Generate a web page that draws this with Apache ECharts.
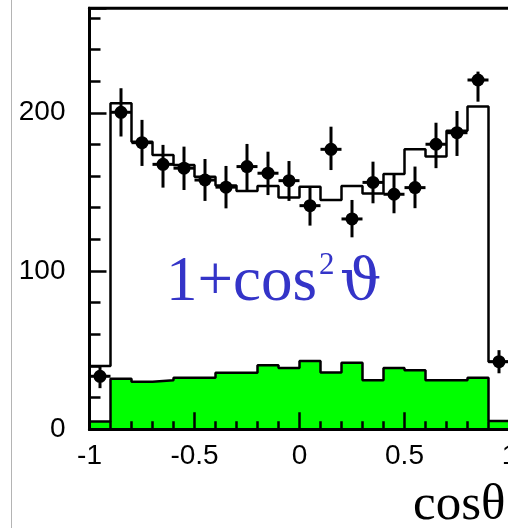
<!DOCTYPE html>
<html>
<head>
<meta charset="utf-8">
<script src="https://cdn.jsdelivr.net/npm/echarts@6/dist/echarts.min.js"></script>
<style>
  html, body { margin: 0; padding: 0; background: #fff; }
  #chart { width: 508px; height: 528px; }
</style>
</head>
<body>
<div id="chart"></div>
<script>
// ---- data ----
// bin edges (20 bins of width 0.1 on cos theta)
const binEdges = [-1.0, -0.9, -0.8, -0.7, -0.6, -0.5, -0.4, -0.3, -0.2, -0.1, 0.0,
                  0.1, 0.2, 0.3, 0.4, 0.5, 0.6, 0.7, 0.8, 0.9, 1.0];
// bin centres for the data points
const binCenters = [-0.95, -0.85, -0.75, -0.65, -0.55, -0.45, -0.35, -0.25, -0.15, -0.05,
                    0.05, 0.15, 0.25, 0.35, 0.45, 0.55, 0.65, 0.75, 0.85, 0.95];
// 1+cos^2 expectation histogram (open outline)
const mcValues = [40, 206, 181.7, 173.3, 167, 159.6, 154, 150.6, 153.7, 146.4,
                  153.3, 144.9, 153.7, 149, 161.3, 176.9, 172.3, 188.7, 203.9, 42.7];
// background histogram (green)
const bgValues = [5, 32, 30, 31, 32.5, 32.5, 35.7, 35.7, 40.5, 38.8,
                  43.2, 35.9, 42, 31, 38.8, 37.3, 31, 31, 32.5, 5.2];
// measured points with error bars
const dataValues = [33.5, 200.3, 181.1, 167.4, 165, 157.5, 153, 166, 161.8, 157.1,
                    141.3, 176.9, 132.9, 156, 148.5, 152.7, 180.1, 187.4, 220.7, 42.7];
const dataLow = [26, 185, 166.4, 152.7, 151.2, 144.3, 139.6, 150.2, 148, 144.3,
                 128.7, 163.8, 121.3, 142.8, 136.5, 139.7, 165, 172.7, 207, 35.4];
const dataHigh = [39.5, 215.5, 195.5, 179.7, 178.6, 170.8, 166.4, 180.3, 175.4, 169.5,
                  153.7, 191.2, 144.9, 169.1, 160.7, 166, 193.7, 201.1, 226, 50];
// axis tick labels
const yTickLabels = [0, 100, 200];
const xTickLabels = [-1, -0.5, 0, 0.5, 1];

// ---- build series data ----
function stepData(values) {
  const out = [];
  for (let i = 0; i < values.length; i++) out.push([binEdges[i], values[i]]);
  out.push([binEdges[binEdges.length - 1], values[values.length - 1]]);
  return out;
}
const pointData = binCenters.map((x, i) => [x, dataValues[i], dataLow[i], dataHigh[i]]);

const HALF_BAR = 0.05;
const labelFont = { fontFamily: 'Liberation Sans', fontSize: 28, color: '#000' };
const BLUE = '#3434c8';

const chart = echarts.init(document.getElementById('chart'), null, { renderer: 'canvas' });
chart.setOption({
  animation: false,
  backgroundColor: '#fff',
  grid: {
    left: 89.5, top: 8.3, width: 420, height: 421,
    containLabel: false, outerBoundsMode: 'none',
    show: true, borderColor: '#000', borderWidth: 3, backgroundColor: 'transparent'
  },
  xAxis: [{
    type: 'value', min: -1, max: 1, interval: 0.5, z: 10,
    axisLine: { show: true, onZero: false, lineStyle: { color: '#000', width: 3 } },
    axisTick: { show: true, inside: true, length: 17, lineStyle: { color: '#000', width: 2.5 } },
    minorTick: { show: true, splitNumber: 5, length: 8, lineStyle: { color: '#000', width: 2.5 } },
    axisLabel: Object.assign({ margin: 13,
      formatter: v => (xTickLabels.some(t => Math.abs(t - v) < 1e-9) ? String(v) : '') }, labelFont),
    splitLine: { show: false }, minorSplitLine: { show: false }
  }],
  yAxis: [{
    type: 'value', min: 0, max: 266, interval: 20, position: 'left', z: 10,
    axisLine: { show: true, onZero: false, lineStyle: { color: '#000', width: 3 } },
    axisTick: { show: true, inside: true, length: 11, lineStyle: { color: '#000', width: 2.5 } },
    axisLabel: Object.assign({ margin: 24,
      formatter: v => (yTickLabels.indexOf(v) >= 0 ? String(v) : '') }, labelFont),
    splitLine: { show: false }
  }, {
    type: 'value', min: 0, max: 266, interval: 100, position: 'left', offset: 0, z: 10,
    axisLine: { show: false, onZero: false },
    axisTick: { show: true, inside: true, length: 17, lineStyle: { color: '#000', width: 2.5 } },
    axisLabel: { show: false },
    splitLine: { show: false }
  }],
  graphic: [
    { type: 'line', shape: { x1: 11.5, y1: 0, x2: 11.5, y2: 528 }, style: { stroke: '#b4b4b4', lineWidth: 1 }, z: 0 },
    { type: 'text', x: 166, y: 283.5, z: 20,
      style: { text: '1+cos', fontFamily: 'Liberation Serif', fontSize: 63, lineHeight: 63, fill: BLUE, verticalAlign: 'middle', align: 'left' } },
    { type: 'text', x: 319, y: 266.2, z: 20,
      style: { text: '2', fontFamily: 'Liberation Serif', fontSize: 31, lineHeight: 31, fill: BLUE, verticalAlign: 'middle', align: 'left' } },
    { type: 'text', x: 340, y: 283.5, z: 20,
      style: { text: 'ϑ', fontFamily: 'DejaVu Serif', fontSize: 58, lineHeight: 58, fill: BLUE, verticalAlign: 'middle', align: 'left' } },
    { type: 'text', x: 413, y: 506, z: 20,
      style: { text: 'cosθ', fontFamily: 'Liberation Serif', fontSize: 51, lineHeight: 51, fill: '#000', verticalAlign: 'middle', align: 'left' } }
  ],
  series: [{
    type: 'line', step: 'end', data: stepData(mcValues), symbol: 'none', z: 2,
    lineStyle: { color: '#000', width: 2.5 }
  }, {
    type: 'line', step: 'end', data: stepData(bgValues), symbol: 'none', z: 3,
    lineStyle: { color: '#000', width: 2.5 },
    areaStyle: { color: '#00ff00', opacity: 1 }
  }, {
    type: 'custom', z: 4,
    data: pointData,
    renderItem: function (params, api) {
      const x = api.value(0), y = api.value(1), lo = api.value(2), hi = api.value(3);
      const c = api.coord([x, y]);
      const pLo = api.coord([x, lo]);
      const pHi = api.coord([x, hi]);
      const pL = api.coord([x - HALF_BAR, y]);
      const pR = api.coord([x + HALF_BAR, y]);
      return {
        type: 'group',
        children: [
          { type: 'line', shape: { x1: pLo[0], y1: pLo[1], x2: pHi[0], y2: pHi[1] }, style: { stroke: '#000', lineWidth: 3 } },
          { type: 'line', shape: { x1: pL[0], y1: c[1], x2: pR[0], y2: c[1] }, style: { stroke: '#000', lineWidth: 3 } },
          { type: 'circle', shape: { cx: c[0], cy: c[1], r: 6.5 }, style: { fill: '#000' } }
        ]
      };
    }
  }]
});
</script>
</body>
</html>
